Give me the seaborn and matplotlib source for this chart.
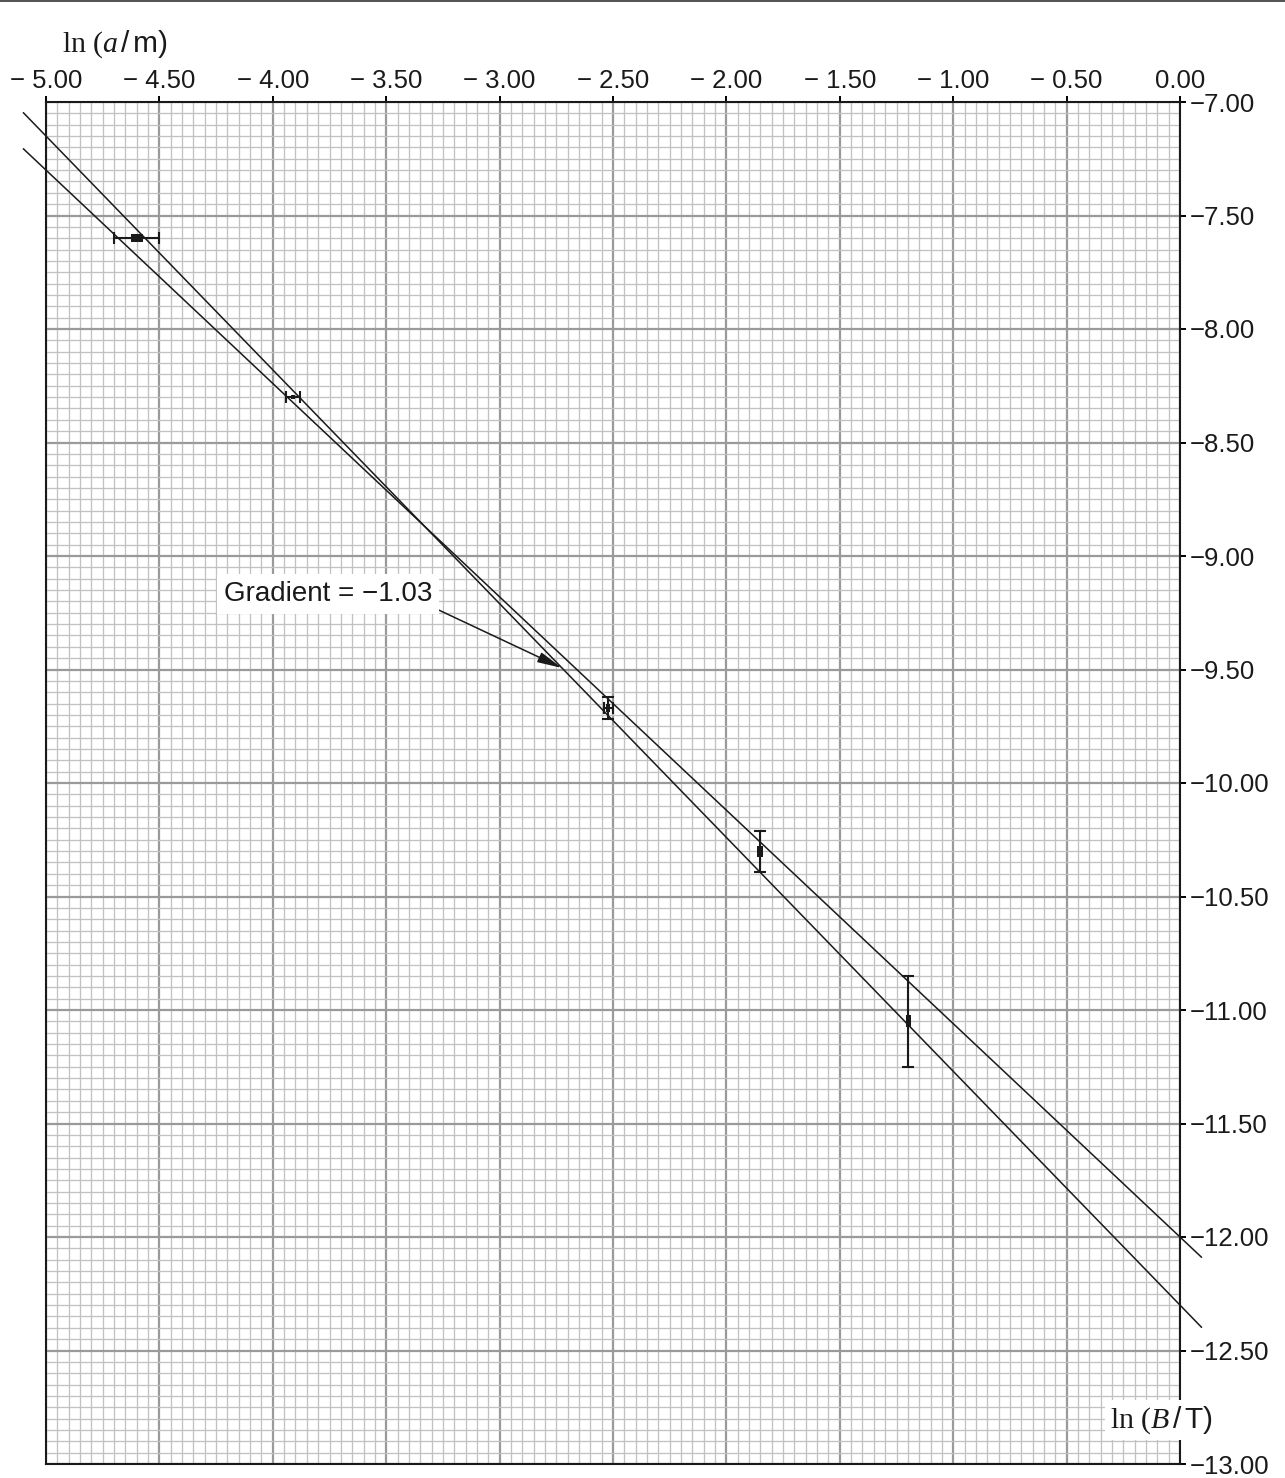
import matplotlib
matplotlib.use("Agg")
import matplotlib.pyplot as plt
from matplotlib.ticker import MultipleLocator, FuncFormatter
from matplotlib.lines import Line2D
import numpy as np
import pandas as pd
import seaborn as sns

# Measurements: ln(B/T) against ln(a/m) with uncertainties
ln_B = [-4.60, -3.91, -2.52, -1.85, -1.20]
ln_a = [-7.60, -8.30, -9.67, -10.30, -11.05]
ln_B_err = [0.10, 0.03, 0.02, 0.00, 0.00]
ln_a_err = [0.00, 0.00, 0.05, 0.09, 0.20]

# Best-fit and worst-acceptable straight lines
best_gradient, best_intercept = -1.03, -12.30
worst_gradient, worst_intercept = -0.94, -12.00

x_ticks = [-5.00, -4.50, -4.00, -3.50, -3.00, -2.50, -2.00, -1.50, -1.00, -0.50, 0.00]
y_ticks = [-7.00, -7.50, -8.00, -8.50, -9.00, -9.50, -10.00, -10.50,
           -11.00, -11.50, -12.00, -12.50, -13.00]

sns.set_theme(style="white")
plt.rcParams["font.family"] = ["Liberation Sans", "DejaVu Sans"]
plt.rcParams["mathtext.fontset"] = "custom"
plt.rcParams["mathtext.rm"] = "Liberation Serif"
plt.rcParams["mathtext.it"] = "Liberation Serif:italic"

W, H = 1285, 1478
fig = plt.figure(figsize=(W / 100, H / 100), dpi=100)
ax = fig.add_axes([46 / W, 14 / H, 1134 / W, 1362 / H])

ax.set_xlim(x_ticks[0], x_ticks[-1])
ax.set_ylim(y_ticks[-1], y_ticks[0])

# graph-paper grid
ax.xaxis.set_major_locator(MultipleLocator(0.5))
ax.yaxis.set_major_locator(MultipleLocator(0.5))
ax.xaxis.set_minor_locator(MultipleLocator(0.05))
ax.yaxis.set_minor_locator(MultipleLocator(0.05))
ax.grid(which="minor", color="#c2c2c2", lw=0.95, zorder=0)
ax.grid(which="major", color="#9a9a9a", lw=1.6, zorder=0)
ax.set_axisbelow(True)

ax.xaxis.tick_top()
ax.yaxis.tick_right()


def fmt_x(v, pos):
    if abs(v) < 1e-9:
        return "0.00"
    return f"\u2212 {abs(v):.2f}"


def fmt_y(v, pos):
    return f"\u2212{abs(v):.2f}"


ax.xaxis.set_major_formatter(FuncFormatter(fmt_x))
ax.yaxis.set_major_formatter(FuncFormatter(fmt_y))
ax.tick_params(which="major", direction="out", length=4, width=1.4, color="black",
               labelsize=18.5, labelcolor="#1a1a1a")
ax.tick_params(axis="x", which="major", pad=2.5, top=True, bottom=False)
ax.tick_params(axis="y", which="major", pad=3, right=True, left=False)
ax.tick_params(which="minor", length=0)

for side, sp in ax.spines.items():
    sp.set_visible(True)
    sp.set_color("#1a1a1a")
    sp.set_linewidth(1.5)

# fitted lines, extended slightly past the plotting area
line_x = np.array([-5.10, 0.095])
lines_df = pd.concat([
    pd.DataFrame({"x": line_x, "y": best_gradient * line_x + best_intercept, "fit": "best"}),
    pd.DataFrame({"x": line_x, "y": worst_gradient * line_x + worst_intercept, "fit": "worst"}),
])
sns.lineplot(data=lines_df, x="x", y="y", units="fit", estimator=None,
             color="#1a1a1a", lw=1.1, ax=ax, legend=False, zorder=3)
for ln in ax.get_lines():
    ln.set_clip_on(False)
ax.set_xlabel("")
ax.set_ylabel("")

# error bars
bx, by = np.array(ln_B), np.array(ln_a)
bxe, bye = np.array(ln_B_err), np.array(ln_a_err)
mx, my = bxe > 0, bye > 0
ax.errorbar(bx[mx], by[mx], xerr=bxe[mx], fmt="none", ecolor="#1a1a1a",
            elinewidth=1.5, capsize=4.5, capthick=1.5, zorder=4)
ax.errorbar(bx[my], by[my], yerr=bye[my], fmt="none", ecolor="#1a1a1a",
            elinewidth=1.5, capsize=4.5, capthick=1.5, zorder=4)

# point markers: small filled rectangles (width, height in px)
marker_shapes = [(12, 8), (5, 5), (4, 8), (6, 11), (5, 12)]
for xv, yv, (mw, mh) in zip(ln_B, ln_a, marker_shapes):
    verts = [(-mw / 2, -mh / 2), (mw / 2, -mh / 2), (mw / 2, mh / 2), (-mw / 2, mh / 2)]
    ax.plot([xv], [yv], marker=verts, markersize=max(mw, mh) * 0.72,
            color="#1a1a1a", mec="#1a1a1a", mew=0, ls="none", zorder=5)

# gradient annotation
grad_txt = f"Gradient = {best_gradient:.2f}".replace("-", "\u2212")
ax.annotate(grad_txt, xy=(-2.725, best_gradient * -2.725 + best_intercept),
            xytext=(-3.757, -9.167), ha="center", va="center", fontsize=20,
            color="#1a1a1a", zorder=6,
            bbox=dict(boxstyle="square,pad=0.25", fc="white", ec="none"),
            arrowprops=dict(arrowstyle="-|>,head_length=0.75,head_width=0.16",
                            color="#1a1a1a", lw=1.1, relpos=(1.0, 0.0),
                            shrinkA=0, shrinkB=0))

# axis labels
fig.text(115 / W, 1 - 44 / H, r"$\mathrm{ln}\ (a\,$/$\,$m)", ha="center", va="center",
         fontsize=21.5, color="#1a1a1a")
ax.text(-0.083, -12.806, r"$\mathrm{ln}\ (B\,$/$\,$T)", ha="center", va="center",
        fontsize=21.5, color="#1a1a1a", zorder=7, clip_on=False,
        bbox=dict(boxstyle="square,pad=0.15", fc="white", ec="none"))

fig.add_artist(Line2D([0, 1], [1 - 1 / H, 1 - 1 / H], transform=fig.transFigure,
                      color="#444444", lw=1.3))

fig.savefig("out.png", dpi=100)
